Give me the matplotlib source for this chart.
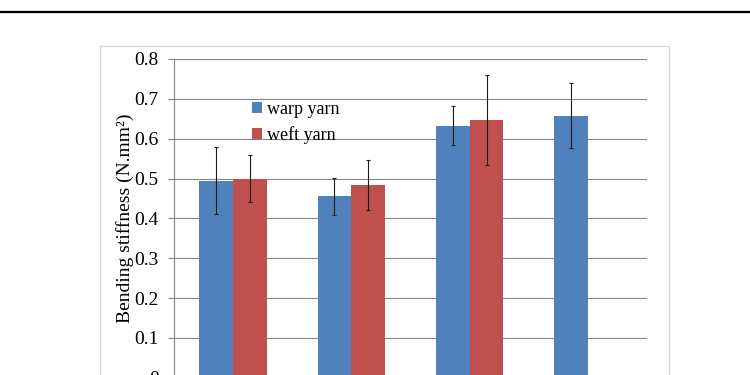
import numpy as np
import matplotlib
matplotlib.use("Agg")
import matplotlib.pyplot as plt
from matplotlib.lines import Line2D
from matplotlib.patches import Rectangle

categories = ["1", "2", "3", "4"]
warp_values = [0.494, 0.455, 0.633, 0.658]
warp_errors = [0.084, 0.046, 0.048, 0.081]
weft_values = [0.500, 0.483, 0.647, np.nan]
weft_errors = [0.060, 0.063, 0.112, np.nan]
series_names = ["warp yarn", "weft yarn"]
yticks = [0, 0.1, 0.2, 0.3, 0.4, 0.5, 0.6, 0.7, 0.8]

plt.rcParams['font.family'] = ['Liberation Serif', 'DejaVu Serif']

fig = plt.figure(figsize=(7.5, 3.75), dpi=100)
W, H = 750, 375

# top rule line
fig.add_artist(Line2D([0, 1], [1 - 12 / H, 1 - 12 / H], color='black', lw=1.6, transform=fig.transFigure))
# chart area border
fig.add_artist(Rectangle((100 / W, -0.05), (669 - 100) / W, (1 - 46 / H) + 0.05,
                         transform=fig.transFigure, fill=False, edgecolor='#d9d9d9', lw=1.0))

y0 = 377.7
y08 = 59
ax = fig.add_axes([174 / W, (H - y0) / H, 473 / W, (y0 - y08) / H])

x = np.arange(len(categories))
bw = 0.286
ekw = dict(ecolor='#1a1a1a', elinewidth=0.8, capsize=1.5, capthick=0.8)
ax.bar(x - bw / 2, warp_values, bw, color='#4F81BD', label=series_names[0], zorder=3)
ax.errorbar(x - bw / 2, warp_values, yerr=warp_errors, fmt='none', zorder=4, **ekw)
ax.bar(x + bw / 2, weft_values, bw, color='#C0504D', label=series_names[1], zorder=3)
ax.errorbar(x + bw / 2, weft_values, yerr=weft_errors, fmt='none', zorder=4, **ekw)

ax.set_xlim(-0.5, len(categories) - 0.5)
ax.set_ylim(0, 0.8)
ax.set_yticks(yticks)
ax.set_yticklabels([("%g" % v) for v in yticks], fontsize=14)
ax.set_xticks(x)
ax.set_xticklabels([])
ax.tick_params(axis='x', length=0)
ax.tick_params(axis='y', length=4, width=0.8, color='#868686', pad=7)
ax.yaxis.grid(True, color='#868686', lw=0.8, zorder=0)
for s in ['top', 'right', 'bottom']:
    ax.spines[s].set_visible(False)
ax.spines['left'].set_color('#868686')
ax.spines['left'].set_linewidth(0.8)

ax.set_ylabel('Bending stiffness (N.mm²)', fontsize=14, labelpad=0)

leg = ax.legend(loc='upper left', bbox_to_anchor=(0.146, 0.898), frameon=False,
                fontsize=13, handlelength=0.55, handleheight=0.55, handletextpad=0.3,
                labelspacing=0.45, borderpad=0)

fig.savefig('out.png', dpi=100)
